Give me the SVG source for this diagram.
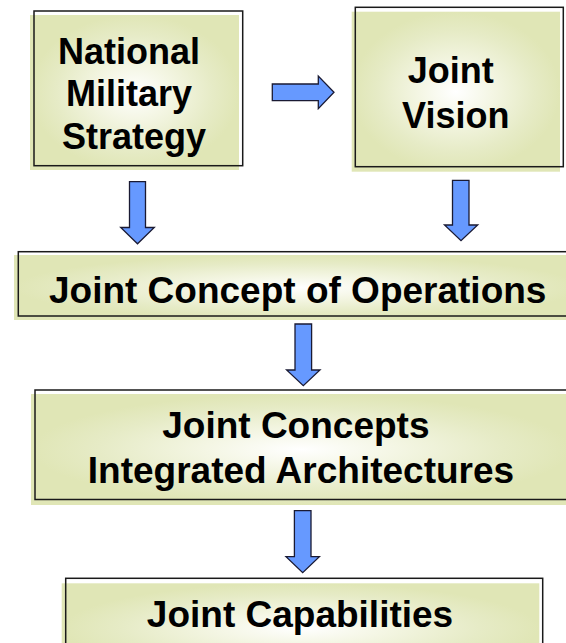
<svg xmlns="http://www.w3.org/2000/svg" width="566" height="643" viewBox="0 0 566 643">
  <defs>
    <radialGradient id="glow" cx="0.5" cy="0.5" r="0.5">
      <stop offset="0" stop-color="#ffffff"/>
      <stop offset="0.35" stop-color="#f4f6e4"/>
      <stop offset="0.75" stop-color="#e6ebc6"/>
      <stop offset="1" stop-color="#e0e6b6"/>
    </radialGradient>
    <style>
      .fill { fill: url(#glow); stroke: none; }
      .frame { fill: none; stroke: #1a1a1a; stroke-width: 1.5; }
      .label { font-family: "Liberation Sans", Arial, sans-serif; font-weight: bold; font-size: 37px; fill: #000; text-anchor: middle; }
      .arrow { fill: #6699ff; stroke: #1a1a33; stroke-width: 1.3; stroke-linejoin: miter; }
    </style>
  </defs>
  <rect width="566" height="643" fill="#ffffff"/>

  <g id="node-national-military-strategy">
    <rect class="fill" x="30" y="15" width="209" height="155"/>
    <rect class="frame" x="34" y="11" width="208.7" height="154.7"/>
    <text class="label" style="font-size:36px">
      <tspan x="134" y="63.5">National</tspan>
      <tspan x="134" y="106">Military</tspan>
      <tspan x="134" y="148.5">Strategy</tspan>
    </text>
  </g>

  <g id="node-joint-vision">
    <rect class="fill" x="351.7" y="11.7" width="208.3" height="160"/>
    <rect class="frame" x="355.3" y="7.3" width="208" height="159.4"/>
    <text class="label" style="font-size:36px">
      <tspan x="455.8" y="83.3">Joint</tspan>
      <tspan x="455.8" y="128.3">Vision</tspan>
    </text>
  </g>

  <g id="node-joint-concept-of-operations">
    <rect class="fill" x="14" y="255" width="568" height="65"/>
    <rect class="frame" x="18.3" y="251.7" width="570" height="64.3"/>
    <text class="label" x="297.7" y="303.3">Joint Concept of Operations</text>
  </g>

  <g id="node-joint-concepts-integrated-architectures">
    <rect class="fill" x="31" y="394" width="540" height="111"/>
    <rect class="frame" x="35" y="390" width="560" height="109.5"/>
    <text class="label">
      <tspan x="301" y="438.3">Joint Concepts</tspan>
      <tspan x="301" y="483.3">Integrated Architectures</tspan>
    </text>
  </g>

  <g id="node-joint-capabilities">
    <rect class="fill" x="61.7" y="583.3" width="477.6" height="90"/>
    <rect class="frame" x="65.7" y="578.3" width="477" height="100"/>
    <text class="label" x="300" y="626.7">Joint Capabilities</text>
  </g>

  <g id="connectors">
    <!-- NMS -> Joint Vision -->
    <path class="arrow" d="M272.3,84 H318.3 V76 L334,92.3 L318.3,108.7 V100.7 H272.3 Z"/>
    <!-- NMS -> JCO -->
    <path class="arrow" d="M129.5,181.7 H145.5 V227.5 H154.3 L137.5,243.8 L120.7,227.5 H129.5 Z"/>
    <!-- Joint Vision -> JCO -->
    <path class="arrow" d="M452.5,180.3 H469 V225 H477.7 L461,240.7 L444.5,225 H452.5 Z"/>
    <!-- JCO -> JCIA -->
    <path class="arrow" d="M295,324 H311.6 V370 H320 L303.3,385.7 L286.6,370 H295 Z"/>
    <!-- JCIA -> Joint Capabilities -->
    <path class="arrow" d="M294.4,510.7 H311 V556.7 H319.4 L302.7,572.7 L286,556.7 H294.4 Z"/>
  </g>
</svg>
